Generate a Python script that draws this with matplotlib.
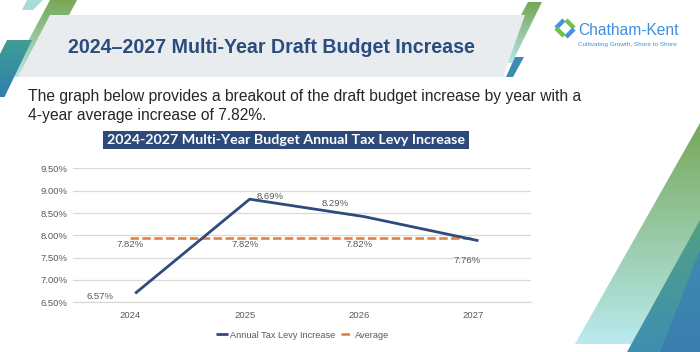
import numpy as np
import matplotlib
matplotlib.use("Agg")
import matplotlib.pyplot as plt
from matplotlib.patches import Polygon, Rectangle
from matplotlib.colors import LinearSegmentedColormap
from matplotlib.transforms import ScaledTranslation

# ---------------- data ----------------
years = ["2024", "2025", "2026", "2027"]
levy_values = [6.70, 8.81, 8.42, 7.88]          # plotted positions
levy_labels = ["6.57%", "8.69%", "8.29%", "7.76%"]
average_values = [7.95, 7.95, 7.95, 7.95]
average_labels = ["7.82%", "7.82%", "7.82%"]
y_ticks = [6.5, 7.0, 7.5, 8.0, 8.5, 9.0, 9.5]
y_tick_labels = ["6.50%", "7.00%", "7.50%", "8.00%", "8.50%", "9.00%", "9.50%"]
series_names = ["Annual Tax Levy Increase", "Average"]

slide_title = "2024\u20132027 Multi-Year Draft Budget Increase"
body_lines = ["The graph below provides a breakout of the draft budget increase by year with a",
              "4-year average increase of 7.82%."]
chart_title = "2024-2027 Multi-Year Budget Annual Tax Levy Increase"

# ---------------- styles ----------------
W, H = 700, 352
NAVY = "#2f4b7c"
ORANGE = "#e8803f"
GRAY_TXT = "#595959"
GRID = "#d9d9d9"

fig = plt.figure(figsize=(W / 100, H / 100), dpi=100)
fig.patch.set_facecolor("white")

bg = fig.add_axes([0, 0, 1, 1], zorder=0)
bg.set_axis_off()


def grad_poly(pts, c_top, c_bot, alpha=1.0):
    poly = Polygon(pts, closed=True, facecolor="none", edgecolor="none")
    bg.add_patch(poly)
    xs = [p[0] for p in pts]
    ys = [p[1] for p in pts]
    cmap = LinearSegmentedColormap.from_list("g", [c_top, c_bot])
    g = np.linspace(0, 1, 256).reshape(-1, 1)
    im = bg.imshow(g, cmap=cmap, extent=[min(xs), max(xs), max(ys), min(ys)],
                   aspect="auto", origin="upper", interpolation="bilinear", alpha=alpha)
    im.set_clip_path(poly)


# title band
bg.add_patch(Polygon([(50, 15), (525, 15), (503, 77), (18, 77)], closed=True,
                     facecolor="#e9ecef", edgecolor="none"))
# left decorations
bg.add_patch(Polygon([(27, 0), (43, 0), (33, 10), (22, 10)], closed=True,
                     facecolor="#a9dcd6", edgecolor="none"))
grad_poly([(50, 0), (77, 0), (36, 77), (9, 77)], "#77a857", "#b7e6e6")
grad_poly([(7, 40), (32, 40), (4.5, 97), (0, 97), (0, 54)], "#3f9e94", "#2e7fae")
# right of title
grad_poly([(528, 2), (542, 2), (512, 63), (495, 63)], "#74a656", "#b5e6e6")
bg.add_patch(Polygon([(515, 57), (524, 57), (513, 77), (506, 77)], closed=True,
                     facecolor="#3a8db0", edgecolor="none"))
# bottom right decorations
grad_poly([(700, 123), (700, 344), (575, 344)], "#77a85a", "#b9eaef")
grad_poly([(700, 220), (700, 352), (627, 352)], "#51a083", "#3f8fb2")
grad_poly([(700, 250), (700, 352), (660, 352)], "#3f8ab0", "#3a7eb0")

# logo icon
bg.plot([556, 564], [28, 20], color="#4a90e2", lw=3.2, solid_capstyle="butt")
bg.plot([556, 564], [28, 36], color="#6cc24a", lw=3.2, solid_capstyle="butt")
bg.plot([566, 574], [20, 28], color="#6cc24a", lw=3.2, solid_capstyle="butt")
bg.plot([566, 574], [37, 29], color="#4a90e2", lw=3.2, solid_capstyle="butt")
bg.text(578, 35, "Chatham-Kent", fontsize=11.2, color="#3d8fe0",
        family=["Liberation Sans"], va="baseline", ha="left")
bg.text(578, 46, "Cultivating Growth, Shore to Shore", fontsize=4.6, color="#3d8fe0",
        family=["Liberation Sans"], va="baseline", ha="left")

# slide title
bg.text(68, 53, slide_title, fontsize=14.1, fontweight="bold", color="#2b4c7e",
        family=["Liberation Sans", "DejaVu Sans"], va="baseline", ha="left")
# body text
bg.text(28, 101, body_lines[0], fontsize=11.25, color="#262626",
        family=["Liberation Sans"], va="baseline", ha="left")
bg.text(28, 120, body_lines[1], fontsize=11.25, color="#262626",
        family=["Liberation Sans"], va="baseline", ha="left")
# chart title box
bg.add_patch(Rectangle((103, 131), 366, 17.5, facecolor="#2e4a7b", edgecolor="none"))
bg.text(286, 140, chart_title, fontsize=10.25, fontweight="bold", color="white",
        family=["Lato", "DejaVu Sans"], va="center", ha="center")

bg.set_xlim(0, W)
bg.set_ylim(H, 0)

# ---------------- chart ----------------
ax = fig.add_axes([73 / W, 49.7 / H, 457.7 / W, 133.9 / H], zorder=1)
ax.patch.set_alpha(0)
x = np.arange(len(years))
shift = ax.transData + ScaledTranslation(5 / 100, 0, fig.dpi_scale_trans)

ax.plot(x, levy_values, color=NAVY, lw=2.0, transform=shift, label=series_names[0],
        solid_capstyle="butt", zorder=3)
ax.plot(x, average_values, color=ORANGE, lw=1.9, dashes=(3.2, 1.3),
        label=series_names[1], zorder=2)

lbl_font = dict(fontsize=6.8, color=GRAY_TXT, family=["Liberation Sans"])
levy_offsets = [(-30, -3), (25, 3), (-24, 13), (-6, -20)]
for i, (v, t) in enumerate(zip(levy_values, levy_labels)):
    ax.annotate(t, (x[i], v), xytext=levy_offsets[i], textcoords="offset pixels",
                ha="center", va="center", **lbl_font)
for i, t in enumerate(average_labels):
    ax.annotate(t, (x[i], average_values[i]), xytext=(0, -7), textcoords="offset pixels",
                ha="center", va="center", **lbl_font)

ax.set_xlim(-0.5, len(years) - 0.5)
ax.set_ylim(y_ticks[0], y_ticks[-1])
ax.set_yticks(y_ticks)
ax.set_yticklabels(y_tick_labels)
ax.set_xticks(x)
ax.set_xticklabels(years)
ax.tick_params(axis="both", length=0, labelsize=6.8, labelcolor=GRAY_TXT)
ax.tick_params(axis="y", pad=4)
ax.tick_params(axis="x", pad=6)
for lab in ax.get_xticklabels() + ax.get_yticklabels():
    lab.set_family(["Liberation Sans"])
ax.grid(axis="y", color=GRID, lw=0.9)
ax.set_axisbelow(True)
for s in ["top", "right", "left"]:
    ax.spines[s].set_visible(False)
ax.spines["bottom"].set_color(GRID)
ax.spines["bottom"].set_linewidth(0.9)

leg = ax.legend(loc="center", bbox_to_anchor=(302.5 / W, 17 / H),
                bbox_transform=fig.transFigure, ncol=2, frameon=False,
                prop={"family": "Liberation Sans", "size": 6.6},
                handlelength=1.3, handletextpad=0.2, columnspacing=0.7)
for t in leg.get_texts():
    t.set_color(GRAY_TXT)

fig.savefig("out.png", dpi=100)
